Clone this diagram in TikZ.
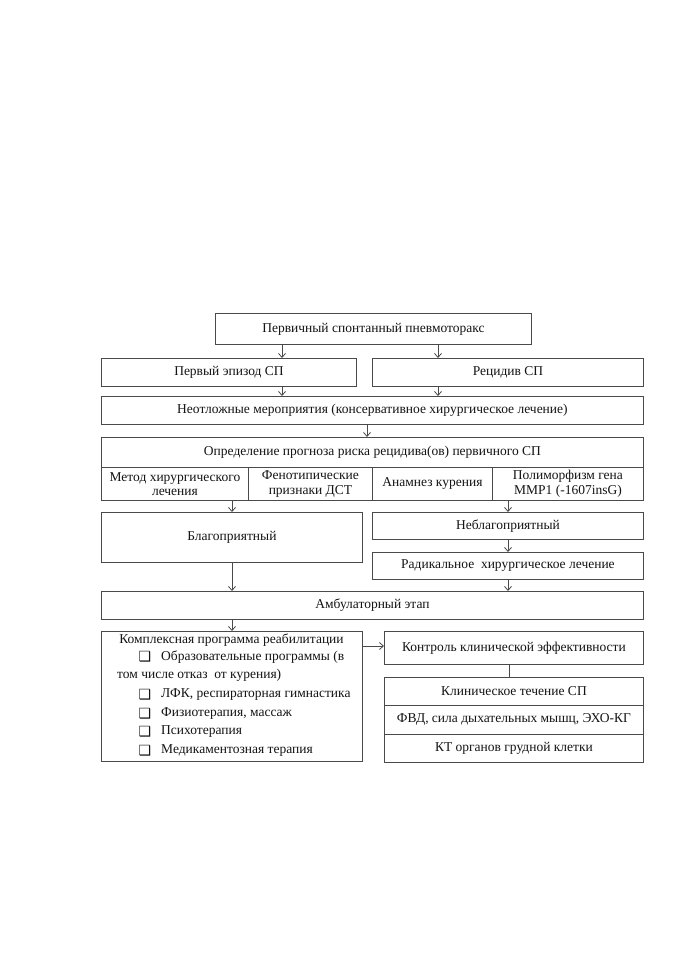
\documentclass[tikz,border=0pt]{standalone}
\usepackage{fontspec}
\setmainfont{Liberation Serif}
\newfontfamily\symfont{DejaVu Sans}
\usetikzlibrary{arrows.meta}
\definecolor{linec}{HTML}{4A4A4A}
\definecolor{textc}{HTML}{141414}
\tikzset{
  box/.style={draw=linec, line width=0.9pt, anchor=north west, inner sep=0pt, align=center, text=textc, font=\fontsize{13.5}{14.5}\selectfont},
  arr/.style={draw=linec, line width=0.8pt, -{Straight Barb[length=4pt,width=7pt,line width=0.8pt]}},
  conn/.style={draw=linec, line width=0.8pt},
  item/.style={anchor=west, inner sep=0pt, text=textc, font=\fontsize{13.5}{14.5}\selectfont},
  chk/.style={anchor=center, inner sep=0pt, text=textc, font=\symfont\fontsize{14}{14}\selectfont}
}
\begin{document}
\begin{tikzpicture}[x=1pt,y=-1pt]
\useasboundingbox (0,0) rectangle (678,960);
\fill[white] (0,0) rectangle (678,960);
% row 1
\node[box, minimum width=316pt, minimum height=31pt] (n1) at (215,313) {Первичный спонтанный пневмоторакс};
% row 2
\node[box, minimum width=255pt, minimum height=28pt] (n2a) at (101,358) {Первый эпизод СП};
\node[box, minimum width=271pt, minimum height=28pt] (n2b) at (372,358) {Рецидив СП};
% row 3
\node[box, minimum width=542pt, minimum height=28pt] (n3) at (101,396) {Неотложные мероприятия (консервативное хирургическое лечение)};
% row 4
\node[box, minimum width=542pt, minimum height=30pt] (n4) at (101,437) {Определение прогноза риска рецидива(ов) первичного СП};
\node[box, minimum width=147pt, minimum height=33pt] (c1) at (101,467) {Метод хирургического\\лечения};
\node[box, minimum width=124pt, minimum height=33pt] (c2) at (248,467) {Фенотипические\\признаки ДСТ};
\node[box, minimum width=120pt, minimum height=33pt] (c3) at (372,467) {Анамнез курения};
\node[box, minimum width=151pt, minimum height=33pt] (c4) at (492,467) {Полиморфизм гена\\MMP1 (-1607insG)};
% row 5
\node[box, minimum width=261pt, minimum height=50pt] (n5a) at (101,512) {Благоприятный};
\node[box, minimum width=271pt, minimum height=27pt] (n5b) at (372,512) {Неблагоприятный};
\node[box, minimum width=271pt, minimum height=27pt] (n6) at (372,552) {Радикальное\ \ хирургическое лечение};
% row 6
\node[box, minimum width=542pt, minimum height=28pt] (n7) at (101,591) {Амбулаторный этап};
% row 7
\node[box, minimum width=261pt, minimum height=130pt] (n8) at (101,631) {};
\node[box, minimum width=259pt, minimum height=33pt] (n9) at (384,631) {Контроль клинической эффективности};
\node[box, minimum width=259pt, minimum height=28pt] (r1) at (384,677) {Клиническое течение СП};
\node[box, minimum width=259pt, minimum height=29pt] (r2) at (384,705) {ФВД, сила дыхательных мышц, ЭХО-КГ};
\node[box, minimum width=259pt, minimum height=28pt] (r3) at (384,734) {КТ органов грудной клетки};
% text of n8
\node[item, anchor=center] (t0) at (231.5,640) {Комплексная программа реабилитации};
\node[chk] (k1) at (145,657) {❑};
\node[item] (t1) at (161,657) {Образовательные программы (в};
\node[item] (t1b) at (117,675) {том числе отказ\ \ от курения)};
\node[chk] (k2) at (145,695) {❑};
\node[item] (t2) at (161,695) {ЛФК, респираторная гимнастика};
\node[chk] (k3) at (145,714) {❑};
\node[item] (t3) at (161,714) {Физиотерапия, массаж};
\node[chk] (k4) at (145,732) {❑};
\node[item] (t4) at (161,732) {Психотерапия};
\node[chk] (k5) at (145,751) {❑};
\node[item] (t5) at (161,751) {Медикаментозная терапия};
% connectors
\draw[arr] (n1.south -| 282,0) -- (n2a.north -| 282,0);
\draw[arr] (n1.south -| 438,0) -- (n2b.north -| 438,0);
\draw[arr] (n2a.south -| 282,0) -- (n3.north -| 282,0);
\draw[arr] (n2b.south -| 438,0) -- (n3.north -| 438,0);
\draw[arr] (n3.south -| 367,0) -- (n4.north -| 367,0);
\draw[arr] (c1.south -| 232,0) -- (n5a.north -| 232,0);
\draw[arr] (c4.south -| 508,0) -- (n5b.north -| 508,0);
\draw[arr] (n5b.south -| 508,0) -- (n6.north -| 508,0);
\draw[arr] (n5a.south -| 232,0) -- (n7.north -| 232,0);
\draw[arr] (n6.south -| 508,0) -- (n7.north -| 508,0);
\draw[arr] (n7.south -| 232,0) -- (n8.north -| 232,0);
\draw[arr] (n8.east |- 0,646) -- (n9.west |- 0,646);
\draw[conn] (n9.south -| 509,0) -- (r1.north -| 509,0);
\end{tikzpicture}
\end{document}
